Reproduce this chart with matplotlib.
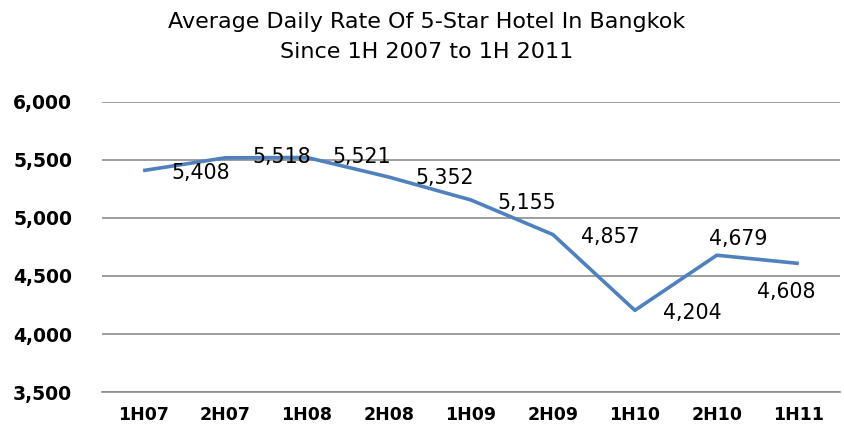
import matplotlib
matplotlib.use("Agg")
import matplotlib.pyplot as plt

# periods and average daily rate (THB)
periods = ["1H07", "2H07", "1H08", "2H08", "1H09", "2H09", "1H10", "2H10", "1H11"]
rates = [5408, 5518, 5521, 5352, 5155, 4857, 4204, 4679, 4608]
rate_labels = ["5,408", "5,518", "5,521", "5,352", "5,155", "4,857", "4,204", "4,679", "4,608"]

# label offsets in pixels (as placed in the original chart)
offs = [(58, -2), (57, 1), (55, 0), (56, -1), (56, -3), (57, -2), (57, -3), (21, 16), (-13, -29)]

fig = plt.figure(figsize=(8.44, 4.43), dpi=100)
ax = fig.add_axes([0.121, 0.115, 0.874, 0.655])

x = list(range(len(periods)))
ax.plot(x, rates, color="#4F81BD", lw=2.6, solid_capstyle="butt", zorder=3)

for i in x:
    ax.annotate(rate_labels[i], (i, rates[i]), xytext=offs[i], textcoords="offset pixels",
                ha="center", va="center", fontsize=14.8, color="black", zorder=4)

ax.set_xlim(-0.5, len(periods) - 0.5)
ax.set_ylim(3500, 6000)
ax.set_yticks([3500, 4000, 4500, 5000, 5500, 6000])
ax.set_yticklabels(["3,500", "4,000", "4,500", "5,000", "5,500", "6,000"])
ax.set_xticks(x)
ax.set_xticklabels(periods)
ax.yaxis.grid(True, color="#8c8c8c", lw=1.2)
ax.set_axisbelow(True)
for s in ["left", "right", "top"]:
    ax.spines[s].set_visible(False)
ax.spines["bottom"].set_color("#8c8c8c")
ax.spines["bottom"].set_linewidth(1.2)
ax.tick_params(axis="both", length=0)
ax.tick_params(axis="y", pad=21.5, labelsize=13.5)
ax.tick_params(axis="x", pad=10, labelsize=12.5)
for t in ax.get_xticklabels() + ax.get_yticklabels():
    t.set_fontweight("bold")

fig.text(0.506, 1 - 28 / 443, "Average Daily Rate Of 5-Star Hotel In Bangkok", ha="center", va="baseline", fontsize=16)
fig.text(0.506, 1 - 58 / 443, "Since 1H 2007 to 1H 2011", ha="center", va="baseline", fontsize=16)

fig.savefig("out.png", dpi=100)
